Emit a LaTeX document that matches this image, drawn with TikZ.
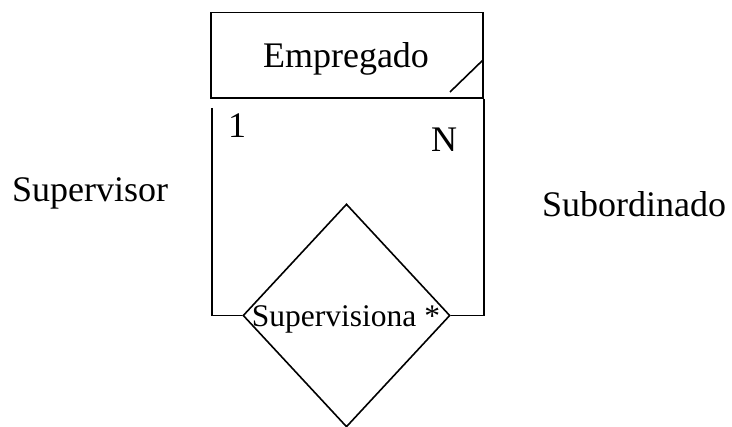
\documentclass[tikz,border=0pt]{standalone}
\usepackage{fontspec}
\setmainfont{Liberation Serif}
\usetikzlibrary{shapes.geometric}
\tikzset{
  er/.style={draw=black, line width=1.6pt},
  big/.style={font=\fontsize{36}{40}\selectfont, inner sep=0pt},
  mid/.style={font=\fontsize{31.5}{36}\selectfont, inner sep=0pt},
  conn/.style={draw=black, line width=1.6pt}
}
\begin{document}
\begin{tikzpicture}[x=1pt,y=-1pt]
\useasboundingbox (0,0) rectangle (732,427);
\node[er, rectangle, minimum width=272pt, minimum height=85.3pt, inner sep=0pt] (emp) at (347,55.3) {};
\node[big, anchor=base] (emptxt) at (346,68) {Empregado};
\node[er, diamond, minimum width=207pt, minimum height=223pt, inner sep=0pt] (rel) at (346.5,315.5) {};
\node[mid, anchor=base] (reltxt) at (346,327) {Supervisiona *};
\coordinate (d1) at (450,92);
\coordinate (d2) at (483,60);
\draw[conn] (d1) -- (d2);
\coordinate (l1) at (212,108);
\draw[conn] (l1) |- (rel.west);
\draw[conn] (emp.south east) |- (rel.east);
\node[big, anchor=base west] (one) at (228,138) {1};
\node[big, anchor=base west] (n) at (431,152) {N};
\node[big, anchor=base west] (sup) at (12,202) {Supervisor};
\node[big, anchor=base west] (sub) at (542,217) {Subordinado};
\end{tikzpicture}
\end{document}
